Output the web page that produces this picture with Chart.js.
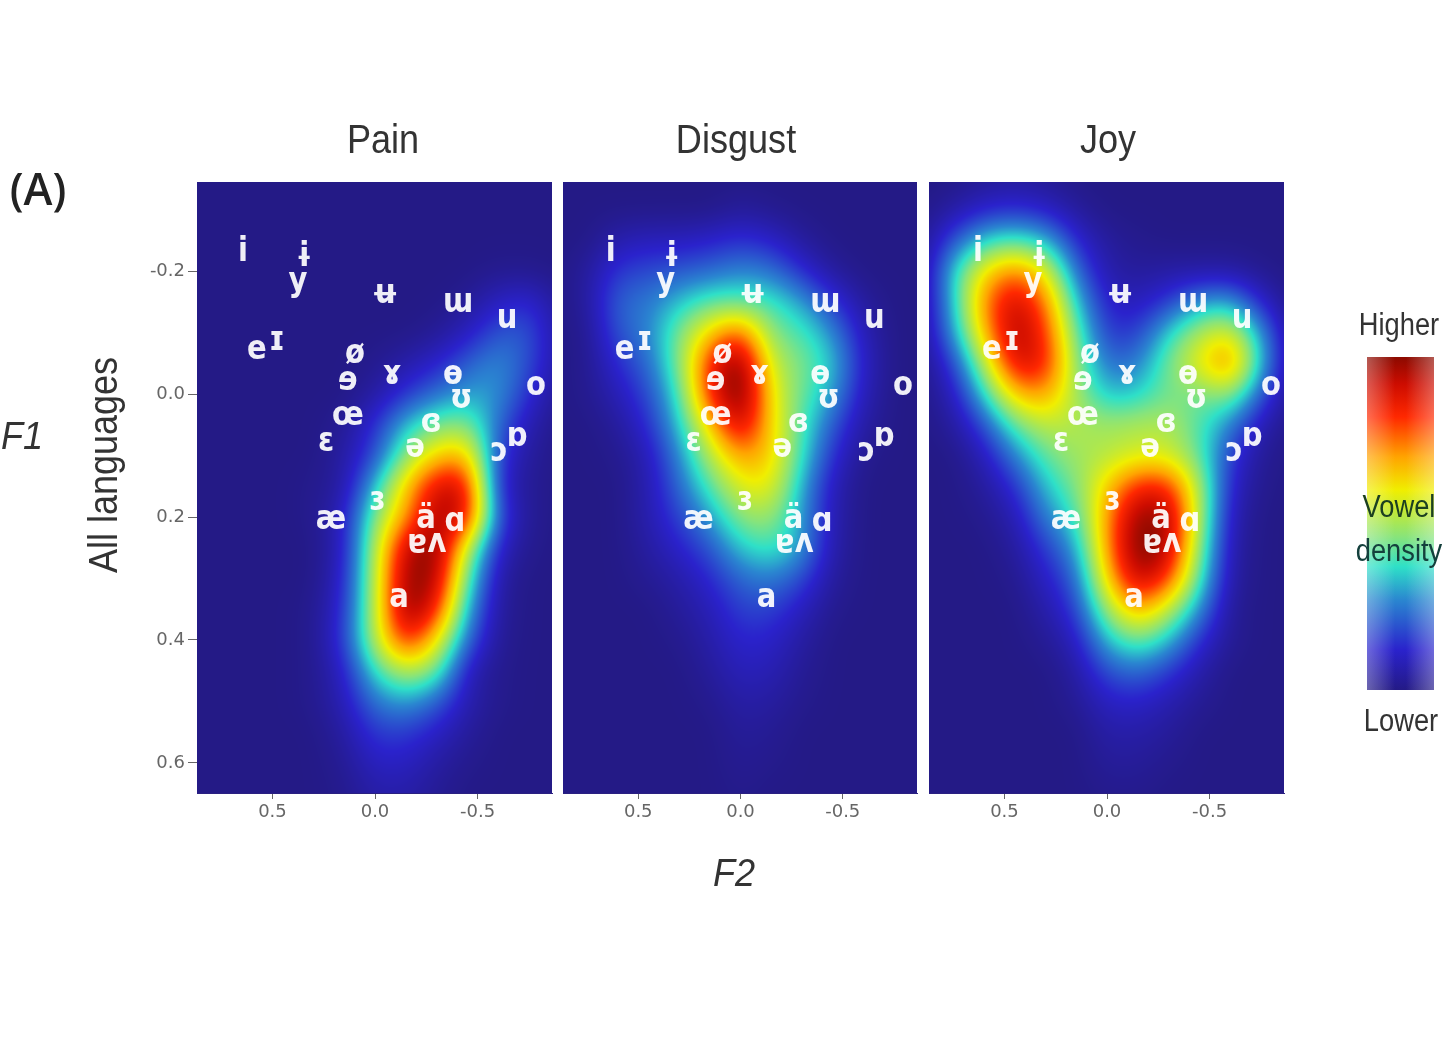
<!DOCTYPE html>
<html><head><meta charset="utf-8">
<style>
html,body{margin:0;padding:0;background:#fff;width:1456px;height:1048px;overflow:hidden}
#wrap{position:absolute;left:0;top:0;width:1456px;height:1048px;filter:blur(0.7px)}
canvas{position:absolute}
.t{position:absolute;font-family:"Liberation Sans",sans-serif;color:#333;white-space:nowrap;transform-origin:center center}
#legend{position:absolute;left:1367px;top:357px;width:67px;height:333px}
</style>
<script src="https://cdn.jsdelivr.net/npm/chart.js@4"></script>
</head><body><div id="wrap">
<div id="legend"></div>
</div>
<script>
const panelTitles=["Pain","Disgust","Joy"];
const f2Ticks=[0.5,0,-0.5];
const f1Ticks=[-0.2,0,0.2,0.4,0.6];
const cellF2=[0.9,0.75,0.6,0.45,0.3,0.15,0,-0.15,-0.3,-0.45,-0.6,-0.75,-0.9];
const cellF1=[-0.35,-0.3,-0.25,-0.2,-0.15,-0.1,-0.05,0,0.05,0.1,0.15,0.2,0.25,0.3,0.35,0.4,0.45,0.5,0.55,0.6,0.65];
const painDensity=[
[0,0,0,0,0,0,0,0,0,0,0,0,0],
[0,0,0,0,0,0,0,0,0,0,0,0,0],
[0,0,0,0,0,0,0,0,0,0,0,0,0],
[0,0,0,0,0,0,0,0,0,0,1,1,0],
[0,0,0,0,0,0,0,0,0,2,9,12,2],
[0,0,0,0,0,0,0,0,2,8,18,18,3],
[0,0,0,0,0,0,1,5,10,19,25,17,3],
[0,0,0,0,0,0,4,13,21,27,26,12,1],
[0,0,0,0,0,2,12,30,40,42,20,6,0],
[0,0,0,0,0,4,16,42,58,62,14,3,0],
[0,0,0,0,1,4,30,59,82,82,10,2,0],
[0,0,0,0,1,8,41,63,88,82,16,2,0],
[0,0,0,0,0,8,46,85,92,48,9,1,0],
[0,0,0,0,0,10,47,90,88,37,4,0,0],
[0,0,0,0,1,12,47,92,78,28,3,0,0],
[0,0,0,0,1,14,47,78,56,20,2,0,0],
[0,0,0,0,1,9,34,48,40,7,1,0,0],
[0,0,0,0,1,7,22,27,19,6,1,0,0],
[0,0,0,0,0,4,14,14,9,3,0,0,0],
[0,0,0,0,0,2,9,9,4,1,0,0,0],
[0,0,0,0,0,1,5,5,2,0,0,0,0]];
const disgustDensity=[
[0,0,0,0,0,0,0,0,0,0,0,0,0],
[0,0,0,0,0,0,3,1,0,0,0,0,0],
[0,0,6,8,8,10,13,10,3,0,0,0,0],
[0,3,14,16,18,20,24,22,12,3,0,0,0],
[0,3,20,22,30,37,37,35,27,14,3,0,0],
[0,1,18,23,40,58,72,40,36,25,7,0,0],
[0,1,12,20,40,76,94,48,40,31,9,0,0],
[0,1,7,16,34,76,96,54,38,27,7,0,0],
[0,0,3,12,30,58,86,56,36,18,4,0,0],
[0,0,1,7,24,46,64,58,34,12,1,0,0],
[0,0,0,6,20,36,52,54,28,7,0,0,0],
[0,0,0,6,15,26,42,44,26,6,0,0,0],
[0,0,0,4,10,17,31,36,27,5,0,0,0],
[0,0,0,2,5,11,20,23,16,3,0,0,0],
[0,0,0,0,3,7,15,15,8,1,0,0,0],
[0,0,0,0,1,5,11,10,4,0,0,0,0],
[0,0,0,0,0,3,8,7,2,0,0,0,0],
[0,0,0,0,0,1,5,4,1,0,0,0,0],
[0,0,0,0,0,0,3,2,0,0,0,0,0],
[0,0,0,0,0,0,2,1,0,0,0,0,0],
[0,0,0,0,0,0,1,0,0,0,0,0,0]];
const joyDensity=[
[0,0,2,3,2,0,0,0,0,0,0,0,0],
[0,4,10,12,9,3,0,0,0,0,0,0,0],
[1,17,32,36,30,11,3,1,0,0,0,0,0],
[1,32,56,68,54,20,5,3,4,4,4,1,0],
[1,30,66,84,68,30,9,7,14,26,28,10,0],
[1,26,60,88,74,38,13,14,32,46,54,26,1],
[0,14,46,82,78,42,20,22,40,54,70,30,1],
[0,7,32,60,64,44,29,31,40,38,44,18,0],
[0,3,16,38,48,46,44,46,46,36,23,6,0],
[0,0,7,23,38,44,46,50,50,38,14,2,0],
[0,0,3,12,30,40,58,76,76,46,10,1,0],
[0,0,1,6,23,34,64,90,88,46,7,0,0],
[0,0,0,3,14,26,64,94,86,42,5,0,0],
[0,0,0,1,9,19,58,86,74,36,4,0,0],
[0,0,0,0,5,14,44,64,48,25,2,0,0],
[0,0,0,0,2,8,30,40,30,12,2,0,0],
[0,0,0,0,0,4,17,21,14,5,0,0,0],
[0,0,0,0,0,2,9,10,6,2,0,0,0],
[0,0,0,0,0,0,5,5,3,0,0,0,0],
[0,0,0,0,0,0,3,3,1,0,0,0,0],
[0,0,0,0,0,0,1,1,0,0,0,0,0]];
const vowelLabels=["i","ɨ","y","ʉ","ɯ","u","e","ɪ","ø","ɘ","ɤ","ɵ","ʊ","o","œ","ɛ","ɞ","ə","ɔ","ɒ","æ","ɜ","ä","ɑ","ɐ","ʌ","a"];
const vowelF2=[0.644,0.346,0.376,-0.049,-0.405,-0.644,0.576,0.478,0.098,0.132,-0.083,-0.380,-0.420,-0.785,0.132,0.239,-0.273,-0.195,-0.605,-0.693,0.215,-0.010,-0.249,-0.390,-0.205,-0.302,-0.117];
const vowelF1=[-0.234,-0.226,-0.185,-0.166,-0.150,-0.125,-0.075,-0.089,-0.068,-0.024,-0.033,-0.034,0.005,-0.016,0.033,0.076,0.044,0.085,0.091,0.067,0.202,0.172,0.200,0.205,0.242,0.239,0.330];
const colorLevels=[0,12,27,37,46,60,70,82,92,100];
const colorStops=["#241a86","#2a22cc","#2a86d0","#2ee0c8","#88e47a","#f0ee00","#ffa400","#ff2800","#cc0c00","#8c0a00"];

const rgb=colorStops.map(h=>[1,3,5].map(i=>parseInt(h.substr(i,2),16)));
function lut(v){v=Math.max(0,Math.min(100,v));let i=0;while(i<colorLevels.length-2&&v>colorLevels[i+1])i++;
 const t=(v-colorLevels[i])/(colorLevels[i+1]-colorLevels[i]);return rgb[i].map((c,k)=>c+(rgb[i+1][k]-c)*t);}
function bs(a,b,c,d,t){const u=1-t;return (a*u*u*u+b*(3*t*t*t-6*t*t+4)+c*(-3*t*t*t+3*t*t+3*t+1)+d*t*t*t)/6;}
function sample(g,fx,fy){
 const x=Math.max(0,Math.min(cellF2.length-1.001,fx)),y=Math.max(0,Math.min(cellF1.length-1.001,fy));
 const ix=Math.floor(x),iy=Math.floor(y),tx=x-ix,ty=y-iy;const R=g.length-1,C=g[0].length-1;const p=[];
 for(let r=-1;r<=2;r++){const row=g[Math.max(0,Math.min(R,iy+r))];
  p.push(bs(row[Math.max(0,ix-1)],row[ix],row[Math.min(C,ix+1)],row[Math.min(C,ix+2)],tx));}
 return bs(p[0],p[1],p[2],p[3],ty)*1.12;
}
const heatPlugin={id:'heat',beforeDatasetsDraw(chart,args,opts){
 const {left,top,width,height}=chart.chartArea;const W=Math.round(width),H=Math.round(height);
 const xs=chart.scales.x,ys=chart.scales.y;
 const off=document.createElement('canvas');off.width=W;off.height=H;const o=off.getContext('2d');
 const img=o.createImageData(W,H);const g=opts.grid;
 const x0=cellF2[0],dx=cellF2[1]-cellF2[0],y0=cellF1[0],dy=cellF1[1]-cellF1[0];
 let n=0;for(let j=0;j<H;j++){const fy=(ys.getValueForPixel(top+j+.5)-y0)/dy;
  for(let i=0;i<W;i++){const fx=(xs.getValueForPixel(left+i+.5)-x0)/dx;
   const c=lut(sample(g,fx,fy));img.data[n++]=c[0];img.data[n++]=c[1];img.data[n++]=c[2];img.data[n++]=255;}}
 o.putImageData(img,0,0);chart.ctx.drawImage(off,left,top,W,H);
}};
const vowelPlugin={id:'vowels',afterDatasetsDraw(chart,args,opts){
 const ctx=chart.ctx,m=chart.getDatasetMeta(0);ctx.save();ctx.font='bold 33px "DejaVu Sans"';ctx.textAlign='center';ctx.textBaseline='middle';ctx.fillStyle='rgba(255,255,255,.93)';
 m.data.forEach((p,i)=>{ctx.save();ctx.translate(p.x+opts.shift,p.y+2);ctx.scale(0.88,1);ctx.fillText(vowelLabels[i],0,0);ctx.restore();});ctx.restore();
}};
const wrap=document.getElementById('wrap');
const panels=[[197,355,painDensity,true,0],[563,354,disgustDensity,false,2],[929,355,joyDensity,false,3]];
const CT=172,PH=611,PADL=70;
const tickFont={size:18,family:'"DejaVu Sans"'};
panels.forEach(([pl,pw,grid,showY,shift],idx)=>{
 const c=document.createElement('canvas');c.style.left=(pl-PADL)+'px';c.style.top=CT+'px';c.style.width=(pw+PADL+10)+'px';c.style.height=(PH+70)+'px';
 c.width=pw+PADL+10;c.height=PH+70;wrap.appendChild(c);
 new Chart(c,{type:'scatter',
  data:{datasets:[{label:panelTitles[idx],data:vowelF2.map((x,i)=>({x,y:vowelF1[i]})),pointRadius:0}]},
  plugins:[heatPlugin,vowelPlugin],
  options:{responsive:false,animation:false,devicePixelRatio:1,
   layout:{padding:{top:10,right:10,left:0,bottom:0}},
   plugins:{legend:{display:false},tooltip:{enabled:false},heat:{grid},vowels:{shift}},
   scales:{
    x:{type:'linear',reverse:true,min:-0.863,max:0.868,
     afterBuildTicks(s){s.ticks=f2Ticks.map(v=>({value:v}))},
     afterFit(s){s.height=60;s.paddingLeft=0;s.paddingRight=0},
     ticks:{callback:v=>v.toFixed(1),font:tickFont,color:'#666',maxRotation:0,padding:3},
     grid:{drawOnChartArea:false,tickLength:6,color:'#666'},border:{color:'#2a2080',width:1}},
    y:{type:'linear',reverse:true,min:-0.345,max:0.649,
     afterBuildTicks(s){s.ticks=f1Ticks.map(v=>({value:v}))},
     afterFit(s){s.width=PADL;s.paddingTop=0;s.paddingBottom=0},
     ticks:{display:showY,callback:v=>v.toFixed(1),font:tickFont,color:'#666',padding:3},
     grid:{display:showY,drawOnChartArea:false,tickLength:9,color:'#666'},border:{display:showY,color:'#2a2080',width:1}}
   }}});
});
function label(text,cx,cy,size,sx,extra){const d=document.createElement('div');d.className='t';d.textContent=text;
 d.style.fontSize=size+'px';d.style.left=cx+'px';d.style.top=cy+'px';
 d.style.transform='translate(-50%,-50%) '+(extra||'')+' scaleX('+sx+')';wrap.appendChild(d);return d;}
label(panelTitles[0],383,139,41,0.88);
label(panelTitles[1],736,139,41,0.88);
label(panelTitles[2],1108,139,41,0.88);
const a=label('(A)',38,187,46,0.95);a.style.fontFamily='"Open Sans"';a.style.fontWeight='600';a.style.color='#222';
const f1=label('F1',22,436,38,0.95);f1.style.fontStyle='italic';
const f2=label('F2',734,873,38,0.95);f2.style.fontStyle='italic';
label('All languages',103,465,40,0.9,'rotate(-90deg)');
label('Higher',1399,325,31,0.88);
label('Vowel',1399,507,31,0.88).style.color='#1c4020';
label('density',1399,551,31,0.88).style.color='#14403c';
label('Lower',1401,721,31,0.88);
const leg=document.getElementById('legend');
const stops=colorLevels.map((v,i)=>colorStops[i]+' '+(100-v)+'%').reverse().join(',');
leg.style.background='linear-gradient(to right,rgba(255,255,255,.32),rgba(255,255,255,0) 42%,rgba(255,255,255,0) 58%,rgba(255,255,255,.32)),linear-gradient(to bottom,'+stops+')';
</script></body></html>
